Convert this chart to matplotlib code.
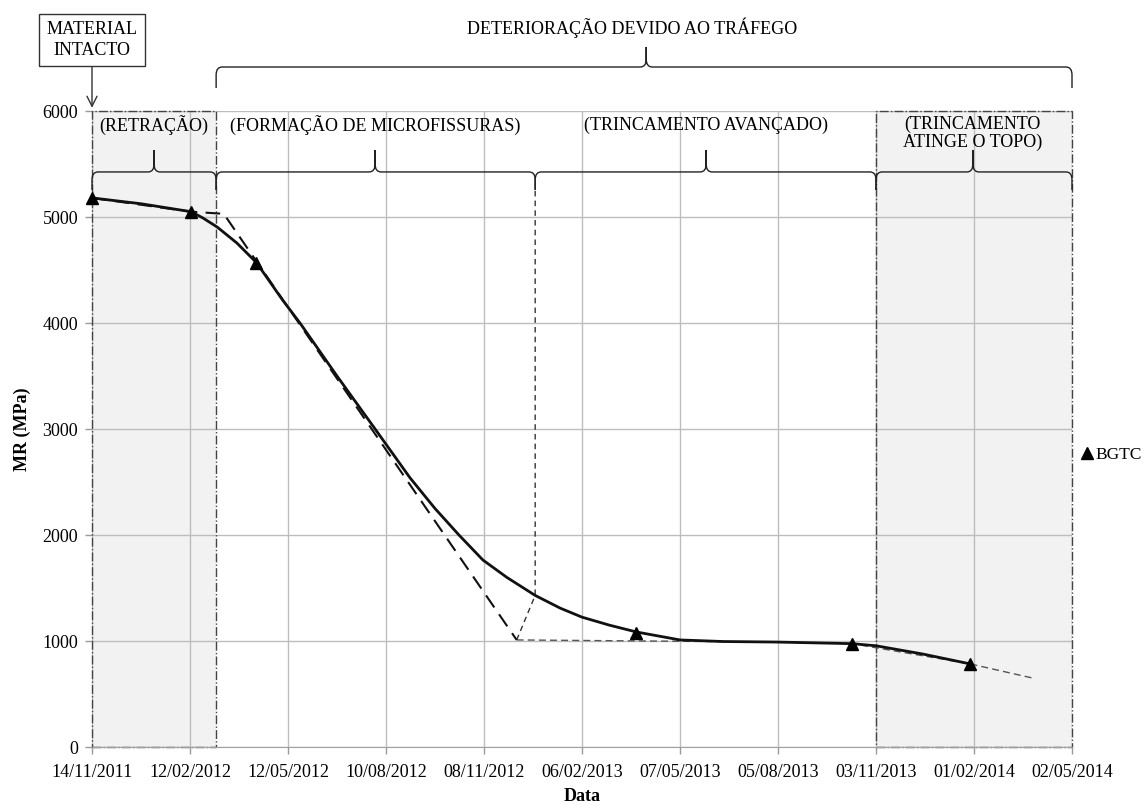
import matplotlib
matplotlib.use('Agg')
import matplotlib.pyplot as plt
from matplotlib.path import Path
from matplotlib.patches import PathPatch, Rectangle
from matplotlib.lines import Line2D
from datetime import datetime

plt.rcParams['font.family'] = ['Liberation Serif', 'DejaVu Serif']

# eixo x: datas (dias contados a partir de 14/11/2011)
tick_labels = ['14/11/2011', '12/02/2012', '12/05/2012', '10/08/2012', '08/11/2012', '06/02/2013',
               '07/05/2013', '05/08/2013', '03/11/2013', '01/02/2014', '02/05/2014']
y_ticks = [0, 1000, 2000, 3000, 4000, 5000, 6000]

# ensaios BGTC
bgtc_days = [0, 91, 151, 500, 698, 806]
bgtc_mr = [5180, 5050, 4570, 1080, 975, 785]

# curva continua
curve_days = [0, 45, 91, 102, 115, 133, 151, 175, 191, 225, 260, 292, 315, 337, 359, 381, 407, 430, 450,
              475, 500, 540, 580, 629, 698, 720, 763, 806]
curve_mr = [5180, 5125, 5050, 4990, 4905, 4755, 4570, 4217, 4000, 3500, 3000, 2540, 2250, 2000, 1764, 1600,
            1430, 1310, 1225, 1150, 1085, 1010, 995, 990, 975, 955, 877, 785]

# tracejado grosso (modelo bilinear)
dash_days = [0, 91, 121, 390]
dash_mr = [5180, 5050, 5030, 1010]

# tracejado fino
thin_days = [390, 629, 698, 806, 864]
thin_mr = [1010, 990, 975, 785, 650]
link_days = [390, 407, 407]
link_mr = [1010, 1430, 5255]

# fases
fase1_fim = 114
fase2_fim = 407
fase3_fim = 720
fase4_fim = 900

start = datetime.strptime(tick_labels[0], '%d/%m/%Y')
tick_pos = [(datetime.strptime(t, '%d/%m/%Y') - start).days for t in tick_labels]


def chave(ax, x0, x1, xt, ym, yt, ye, rx=5.5, ry=75):
    # desenha uma chave horizontal com a ponta para cima
    verts = [(x0, ye), (x0, ym - ry), (x0, ym), (x0 + rx, ym),
             (xt - rx, ym), (xt, ym), (xt, ym + ry), (xt, yt), (xt, ym + ry), (xt, ym), (xt + rx, ym),
             (x1 - rx, ym), (x1, ym), (x1, ym - ry), (x1, ye)]
    codes = [Path.MOVETO, Path.LINETO, Path.CURVE3, Path.CURVE3,
             Path.LINETO, Path.CURVE3, Path.CURVE3, Path.LINETO, Path.LINETO, Path.CURVE3, Path.CURVE3,
             Path.LINETO, Path.CURVE3, Path.CURVE3, Path.LINETO]
    ax.add_patch(PathPatch(Path(verts, codes), fc='none', ec='#222222', lw=1.0, clip_on=False, zorder=5))


fig = plt.figure(figsize=(11.46, 8.05), dpi=100)
ax = fig.add_axes([92 / 1146, 1 - 747 / 805, 980 / 1146, 636 / 805])

ax.set_xlim(tick_pos[0], tick_pos[-1])
ax.set_ylim(0, 6000)

# areas sombreadas
for a, b in [(0, fase1_fim), (fase3_fim, fase4_fim)]:
    ax.add_patch(Rectangle((a, 0), b - a, 6000, fc='#f2f2f2', ec='none', zorder=0.1))
    ax.add_patch(Rectangle((a, 0), b - a, 6000, fc='none', ec='#444444', ls='-.', lw=1.0, zorder=1.5, clip_on=False))

ax.set_xticks(tick_pos)
ax.set_xticklabels(tick_labels, fontsize=13)
ax.set_yticks(y_ticks)
ax.set_yticklabels([str(v) for v in y_ticks], fontsize=13)
ax.grid(True, color='#bdbdbd', lw=1.0)
ax.set_axisbelow(True)
ax.tick_params(axis='both', color='#999999', length=5, width=1, pad=5)
ax.tick_params(axis='x', pad=7)
for s in ['top', 'right', 'left']:
    ax.spines[s].set_visible(False)
ax.spines['bottom'].set_color('#a0a0a0')

ax.plot(thin_days, thin_mr, color='#555555', lw=1.0, ls=(0, (5, 3)), zorder=2)
ax.plot(link_days, link_mr, color='#333333', lw=1.0, ls=(0, (4, 3)), zorder=2, clip_on=False)
ax.plot(dash_days, dash_mr, color='#111111', lw=1.5, ls=(0, (7, 4)), zorder=3)
ax.plot(curve_days, curve_mr, color='#111111', lw=2.0, zorder=4, solid_joinstyle='round')
ax.plot(bgtc_days, bgtc_mr, ls='None', marker='^', color='black', markersize=8, zorder=6, clip_on=False)

ax.set_xlabel('Data', fontsize=13, fontweight='bold', labelpad=5)
ax.set_ylabel('MR (MPa)', fontsize=13, fontweight='bold', labelpad=8)

ax.legend(handles=[Line2D([], [], marker='^', color='black', ls='None', markersize=8)], labels=['BGTC'],
          loc='center left', bbox_to_anchor=(0.99, 0.459), frameon=False, handletextpad=0.0,
          handlelength=1.0, fontsize=12.5)

# chaves
chave(ax, 0, fase1_fim, 57, 5425, 5632, 5255)
chave(ax, fase1_fim, fase2_fim, 260, 5425, 5632, 5255)
chave(ax, fase2_fim, fase3_fim, 564, 5425, 5632, 5255)
chave(ax, fase3_fim, fase4_fim, 809, 5425, 5632, 5255)
chave(ax, fase1_fim, fase4_fim, 509, 6415, 6604, 6217)

ax.text(57, 5868, '(RETRAÇÃO)', ha='center', va='center', fontsize=13)
ax.text(260, 5868, '(FORMAÇÃO DE MICROFISSURAS)', ha='center', va='center', fontsize=13)
ax.text(564, 5868, '(TRINCAMENTO AVANÇADO)', ha='center', va='center', fontsize=13)
ax.text(809, 5790, '(TRINCAMENTO\nATINGE O TOPO)', ha='center', va='center', fontsize=13, linespacing=1.1)
ax.text(496, 6783, 'DETERIORAÇÃO DEVIDO AO TRÁFEGO', ha='center', va='center', fontsize=13, clip_on=False)

ax.annotate('MATERIAL\nINTACTO', xy=(0, 6030), xytext=(0, 6670), ha='center', va='center', fontsize=13,
            linespacing=1.3, annotation_clip=False,
            bbox=dict(boxstyle='square,pad=0.4', fc='white', ec='#333333', lw=1.0),
            arrowprops=dict(arrowstyle='->', color='#333333', lw=1.0, mutation_scale=18, shrinkA=0, shrinkB=0))

fig.savefig('out.png', dpi=100)
